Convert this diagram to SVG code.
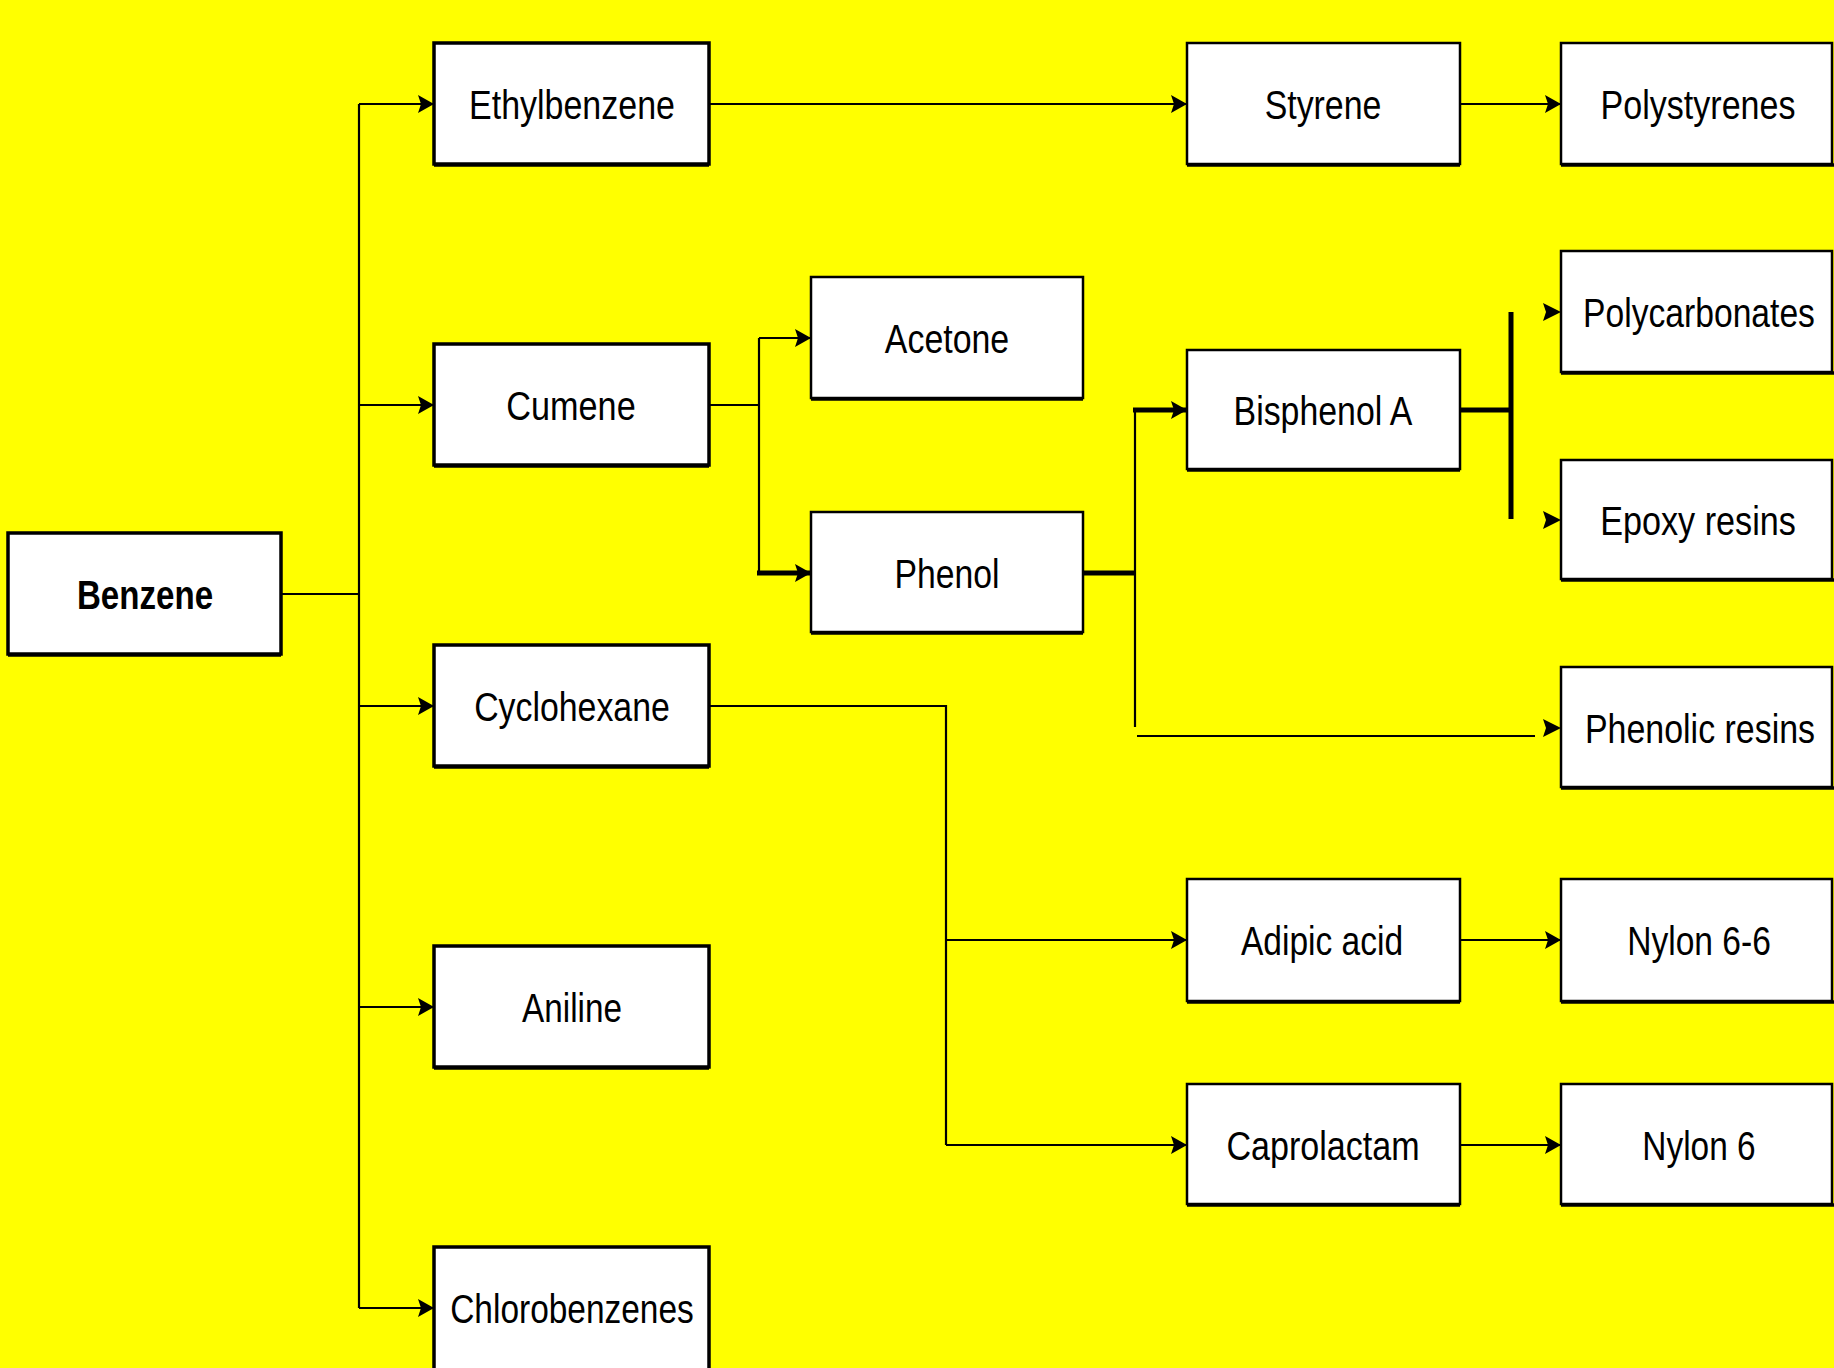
<svg xmlns="http://www.w3.org/2000/svg" width="1834" height="1368" viewBox="0 0 1834 1368">
<style>
.bg{fill:#FFFF00}
.box{fill:#fff;stroke:#000;stroke-width:2.5}
.box2{fill:#fff;stroke:#000;stroke-width:3.5}
.sh{stroke:#000;stroke-width:3.5}
.t{font-family:"Liberation Sans",Arial,sans-serif;font-size:40px;fill:#000;text-anchor:middle}
.b{font-weight:bold}
.ln{fill:none;stroke:#000;stroke-width:2.2}
.lt{fill:none;stroke:#000;stroke-width:5}
.ah{fill:#000}
</style>
<defs>
<marker id="arr" viewBox="0 0 16 18" refX="16" refY="9" markerWidth="16" markerHeight="18" markerUnits="userSpaceOnUse" orient="auto">
<path d="M0,0 L16,9 L0,18 L3,9 Z" fill="#000"/>
</marker>
</defs>
<rect class="bg" x="0" y="0" width="1834" height="1368"/>

<g id="connectors">
<path class="ln" d="M281,594 H359"/>
<path class="ln" d="M359,104 V1308"/>
<path class="ln" d="M359,104 H434" marker-end="url(#arr)"/>
<path class="ln" d="M359,405 H434" marker-end="url(#arr)"/>
<path class="ln" d="M359,706 H434" marker-end="url(#arr)"/>
<path class="ln" d="M359,1007 H434" marker-end="url(#arr)"/>
<path class="ln" d="M359,1308 H434" marker-end="url(#arr)"/>
<path class="ln" d="M709,104 H1187" marker-end="url(#arr)"/>
<path class="ln" d="M1460,104 H1561" marker-end="url(#arr)"/>
<path class="ln" d="M709,405 H759"/>
<path class="ln" d="M759,338 V573"/>
<path class="ln" d="M759,338 H811" marker-end="url(#arr)"/>
<path class="lt" d="M757,573 H811" marker-end="url(#arr)"/>
<path class="lt" d="M1083,573 H1136"/>
<path class="ln" d="M1135,408 V727"/>
<path class="lt" d="M1133,410 H1187" marker-end="url(#arr)"/>
<path class="ln" d="M1137,736 H1535"/>
<path class="ah" d="M1543,719 L1561,728 L1543,737 L1546,728 Z"/>
<path class="lt" d="M1460,410 H1511"/>
<path class="lt" d="M1511,312 V519"/>
<path class="ah" d="M1543,303 L1561,312 L1543,321 L1546,312 Z"/>
<path class="ah" d="M1543,511 L1561,520 L1543,529 L1546,520 Z"/>
<path class="ln" d="M709,706 H946 V1145"/>
<path class="ln" d="M946,940 H1187" marker-end="url(#arr)"/>
<path class="ln" d="M946,1145 H1187" marker-end="url(#arr)"/>
<path class="ln" d="M1460,940 H1561" marker-end="url(#arr)"/>
<path class="ln" d="M1460,1145 H1561" marker-end="url(#arr)"/>
</g>

<g id="benzene"><rect class="box2" x="8" y="533" width="273" height="121"/><line class="sh" x1="8" y1="655" x2="281" y2="655"/><text class="t b" transform="translate(145,609) scale(0.84,1)" textLength="162" lengthAdjust="spacingAndGlyphs">Benzene</text></g>

<g id="ethylbenzene"><rect class="box2" x="434" y="43" width="275" height="121"/><line class="sh" x1="434" y1="165" x2="709" y2="165"/><text class="t" transform="translate(572,119) scale(0.84,1)" textLength="245" lengthAdjust="spacingAndGlyphs">Ethylbenzene</text></g>
<g id="cumene"><rect class="box2" x="434" y="344" width="275" height="121"/><line class="sh" x1="434" y1="466" x2="709" y2="466"/><text class="t" transform="translate(571,420) scale(0.84,1)" textLength="154" lengthAdjust="spacingAndGlyphs">Cumene</text></g>
<g id="cyclohexane"><rect class="box2" x="434" y="645" width="275" height="121"/><line class="sh" x1="434" y1="767" x2="709" y2="767"/><text class="t" transform="translate(572,721) scale(0.84,1)" textLength="233" lengthAdjust="spacingAndGlyphs">Cyclohexane</text></g>
<g id="aniline"><rect class="box2" x="434" y="946" width="275" height="121"/><line class="sh" x1="434" y1="1068" x2="709" y2="1068"/><text class="t" transform="translate(572,1022) scale(0.84,1)" textLength="119" lengthAdjust="spacingAndGlyphs">Aniline</text></g>
<g id="chlorobenzenes"><rect class="box2" x="434" y="1247" width="275" height="135"/><text class="t" transform="translate(572,1323) scale(0.84,1)" textLength="290" lengthAdjust="spacingAndGlyphs">Chlorobenzenes</text></g>

<g id="acetone"><rect class="box" x="811" y="277" width="272" height="121"/><line class="sh" x1="811" y1="399" x2="1083" y2="399"/><text class="t" transform="translate(947,353) scale(0.84,1)" textLength="148" lengthAdjust="spacingAndGlyphs">Acetone</text></g>
<g id="phenol"><rect class="box" x="811" y="512" width="272" height="120"/><line class="sh" x1="811" y1="633" x2="1083" y2="633"/><text class="t" transform="translate(947,588) scale(0.84,1)" textLength="125" lengthAdjust="spacingAndGlyphs">Phenol</text></g>

<g id="styrene"><rect class="box" x="1187" y="43" width="273" height="121"/><line class="sh" x1="1187" y1="165" x2="1460" y2="165"/><text class="t" transform="translate(1323,119) scale(0.84,1)" textLength="139" lengthAdjust="spacingAndGlyphs">Styrene</text></g>
<g id="bisphenol-a"><rect class="box" x="1187" y="350" width="273" height="119"/><line class="sh" x1="1187" y1="470" x2="1460" y2="470"/><text class="t" transform="translate(1323,425) scale(0.84,1)" textLength="213" lengthAdjust="spacingAndGlyphs">Bisphenol A</text></g>
<g id="adipic-acid"><rect class="box" x="1187" y="879" width="273" height="122"/><line class="sh" x1="1187" y1="1002" x2="1460" y2="1002"/><text class="t" transform="translate(1322,955) scale(0.84,1)" textLength="193" lengthAdjust="spacingAndGlyphs">Adipic acid</text></g>
<g id="caprolactam"><rect class="box" x="1187" y="1084" width="273" height="120"/><line class="sh" x1="1187" y1="1205" x2="1460" y2="1205"/><text class="t" transform="translate(1323,1160) scale(0.84,1)" textLength="230" lengthAdjust="spacingAndGlyphs">Caprolactam</text></g>

<g id="polystyrenes"><rect class="box" x="1561" y="43" width="271" height="121"/><line class="sh" x1="1561" y1="165" x2="1834" y2="165"/><text class="t" transform="translate(1698,119) scale(0.84,1)" textLength="232" lengthAdjust="spacingAndGlyphs">Polystyrenes</text></g>
<g id="polycarbonates"><rect class="box" x="1561" y="251" width="271" height="121"/><line class="sh" x1="1561" y1="373" x2="1834" y2="373"/><text class="t" transform="translate(1699,327) scale(0.84,1)" textLength="276" lengthAdjust="spacingAndGlyphs">Polycarbonates</text></g>
<g id="epoxy-resins"><rect class="box" x="1561" y="460" width="271" height="119"/><line class="sh" x1="1561" y1="580" x2="1834" y2="580"/><text class="t" transform="translate(1698,535) scale(0.84,1)" textLength="233" lengthAdjust="spacingAndGlyphs">Epoxy resins</text></g>
<g id="phenolic-resins"><rect class="box" x="1561" y="667" width="271" height="120"/><line class="sh" x1="1561" y1="788" x2="1834" y2="788"/><text class="t" transform="translate(1700,743) scale(0.84,1)" textLength="274" lengthAdjust="spacingAndGlyphs">Phenolic resins</text></g>
<g id="nylon-6-6"><rect class="box" x="1561" y="879" width="271" height="122"/><line class="sh" x1="1561" y1="1002" x2="1834" y2="1002"/><text class="t" transform="translate(1699,955) scale(0.84,1)" textLength="171" lengthAdjust="spacingAndGlyphs">Nylon 6-6</text></g>
<g id="nylon-6"><rect class="box" x="1561" y="1084" width="271" height="120"/><line class="sh" x1="1561" y1="1205" x2="1834" y2="1205"/><text class="t" transform="translate(1699,1160) scale(0.84,1)" textLength="135" lengthAdjust="spacingAndGlyphs">Nylon 6</text></g>
</svg>
